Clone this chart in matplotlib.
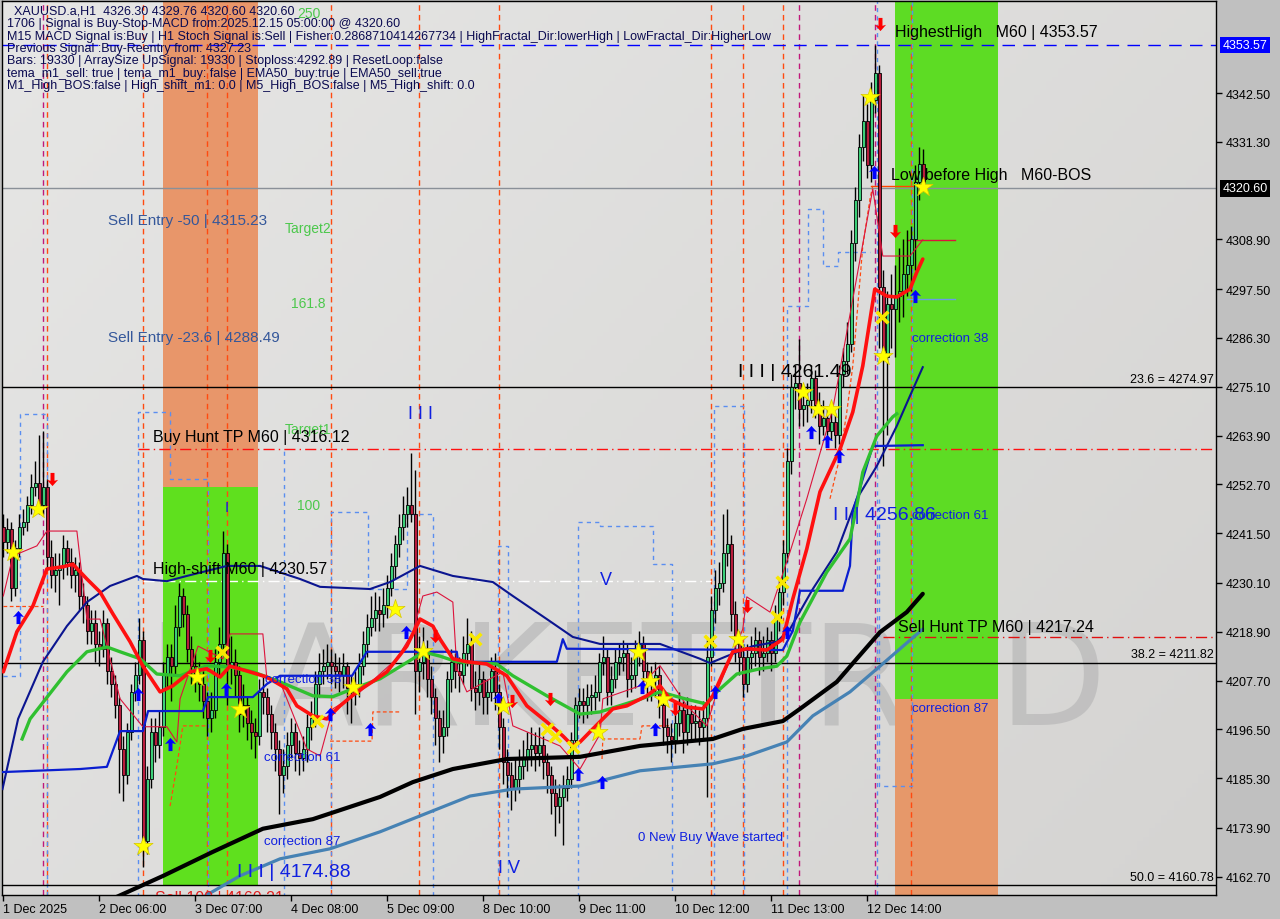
import numpy as np
import matplotlib.pyplot as plt
from matplotlib.patches import Rectangle
from matplotlib.path import Path
from matplotlib.colors import LinearSegmentedColormap
from matplotlib.transforms import blended_transform_factory

plt.rcParams['font.family'] = ['Liberation Sans', 'DejaVu Sans']

# XAUUSD H1 candles, bar 0 = 1 Dec 2025 00:00
first_open = 4243.0
closes = [
    4239.5, 4242.5, 4229.0, 4238.0, 4243.0, 4244.0, 4248.0, 4252.0, 4253.0, 4248.0,
    4252.0, 4236.0, 4232.0, 4233.0, 4234.0, 4238.0, 4235.0, 4232.0, 4233.0, 4227.0,
    4225.0, 4219.0, 4221.0, 4216.0, 4215.0, 4221.0, 4210.0, 4207.0, 4202.0, 4192.0,
    4186.0, 4196.0, 4205.0, 4209.0, 4217.0, 4171.0, 4185.0, 4196.0, 4193.0, 4197.0,
    4209.0, 4213.0, 4211.0, 4220.0, 4227.0, 4223.0, 4215.0, 4211.0, 4209.0, 4207.0,
    4203.0, 4199.0, 4201.0, 4212.0, 4216.0, 4237.0, 4211.0, 4212.0, 4209.0, 4200.0,
    4202.0, 4198.0, 4196.0, 4195.0, 4205.0, 4204.0, 4200.0, 4196.0, 4192.0, 4186.0,
    4188.0, 4193.0, 4196.0, 4191.0, 4190.0, 4192.0, 4197.0, 4199.0, 4207.0, 4210.0,
    4211.0, 4212.0, 4211.0, 4210.0, 4209.0, 4211.0, 4206.0, 4205.0, 4207.0, 4211.0,
    4216.0, 4220.0, 4222.0, 4224.0, 4223.0, 4225.0, 4229.0, 4234.0, 4239.0, 4243.0,
    4246.0, 4248.0, 4246.0, 4210.0, 4212.0, 4215.0, 4208.0, 4204.0, 4199.0, 4195.0,
    4197.0, 4208.0, 4212.0, 4210.0, 4209.0, 4214.0, 4216.0, 4206.0, 4205.0, 4208.0,
    4204.0, 4205.0, 4210.0, 4205.0, 4197.0, 4189.0, 4186.0, 4183.0, 4185.0, 4188.0,
    4190.0, 4192.0, 4193.0, 4191.0, 4193.0, 4189.0, 4186.0, 4182.0, 4179.0, 4181.0,
    4183.0, 4185.0, 4194.0, 4202.0, 4203.0, 4202.0, 4204.0, 4204.0, 4205.0, 4212.0,
    4213.0, 4205.0, 4208.0, 4212.0, 4213.0, 4214.0, 4208.0, 4209.0, 4214.0, 4216.0,
    4210.0, 4207.0, 4208.0, 4209.0, 4202.0, 4197.0, 4195.0, 4194.0, 4198.0, 4201.0,
    4196.0, 4200.0, 4198.0, 4198.5, 4197.0, 4199.0, 4213.0, 4224.0, 4229.0, 4230.0,
    4237.0, 4239.0, 4223.0, 4216.0, 4213.0, 4207.0, 4213.0, 4214.0, 4217.0, 4213.0,
    4214.0, 4217.0, 4214.0, 4222.0, 4228.0, 4237.0, 4258.0, 4275.0, 4276.0, 4270.0,
    4271.0, 4272.0, 4277.0, 4271.0, 4266.0, 4268.0, 4265.0, 4267.0, 4264.0, 4278.0,
    4281.0, 4285.0, 4308.0, 4318.0, 4330.0, 4336.0, 4326.0, 4341.0, 4347.0, 4298.0,
    4282.0, 4294.0, 4293.0, 4296.0, 4297.0, 4301.0, 4303.0, 4309.0, 4322.0, 4326.3,
    4320.6,
]
highs = [
    4246, 4245, 4244, 4240, 4246, 4247, 4250, 4255, 4258, 4264,
    4265, 4254, 4240, 4237, 4237, 4241, 4240, 4238, 4236, 4235,
    4230, 4227, 4224, 4224, 4219, 4224, 4222, 4213, 4209, 4204,
    4195, 4198, 4207, 4212, 4222, 4219, 4188, 4199, 4199, 4201,
    4212, 4216, 4216, 4225, 4230, 4229, 4225, 4218, 4214, 4212,
    4210, 4205, 4205, 4215, 4220, 4242, 4239, 4218, 4215, 4211,
    4207, 4204, 4201, 4199, 4208, 4209, 4206, 4202, 4198, 4194,
    4192, 4196, 4199, 4198, 4194, 4195, 4200, 4203, 4210, 4214,
    4215, 4216, 4215, 4214, 4213, 4214, 4212, 4209, 4210, 4214,
    4219, 4223, 4227, 4228, 4227, 4229, 4232, 4237, 4241, 4246,
    4250, 4252, 4260, 4256, 4218, 4220, 4217, 4211, 4206, 4201,
    4201, 4210, 4215, 4214, 4213, 4218, 4222, 4219, 4210, 4212,
    4210, 4208, 4213, 4214, 4207, 4199, 4192, 4189, 4190, 4192,
    4194, 4196, 4197, 4196, 4197, 4195, 4191, 4188, 4185, 4184,
    4186, 4188, 4196, 4204, 4206, 4206, 4207, 4207, 4209, 4214,
    4218, 4215, 4211, 4215, 4216, 4217, 4216, 4213, 4217, 4219,
    4218, 4212, 4211, 4212, 4211, 4204, 4199, 4198, 4201, 4205,
    4203, 4204, 4202, 4202, 4201, 4203, 4217, 4227, 4233, 4235,
    4246, 4247, 4241, 4226, 4219, 4216, 4216, 4218, 4220, 4219,
    4218, 4220, 4219, 4225, 4231, 4240, 4261, 4278, 4280, 4286,
    4275, 4276, 4280, 4279, 4274, 4272, 4270, 4271, 4269, 4280,
    4284, 4290, 4311, 4321, 4333, 4342, 4340, 4345, 4353.57, 4349,
    4302, 4297, 4301, 4303, 4307, 4309, 4311, 4312, 4326, 4330,
    4329.76,
]
lows = [
    4236, 4237, 4226, 4227, 4236, 4241, 4242, 4246, 4250, 4246,
    4246, 4233, 4229, 4228, 4225, 4231, 4232, 4229, 4228, 4224,
    4221, 4216, 4216, 4212, 4211, 4213, 4207, 4204, 4199, 4182,
    4180, 4184, 4194, 4203, 4207, 4165, 4168, 4183, 4189, 4190,
    4195, 4206, 4203, 4209, 4218, 4220, 4212, 4207, 4205, 4203,
    4199, 4195, 4196, 4199, 4209, 4214, 4202, 4207, 4204, 4196,
    4197, 4194, 4192, 4190, 4193, 4200, 4196, 4192, 4187, 4177,
    4182, 4185, 4190, 4187, 4186, 4187, 4189, 4194, 4197, 4204,
    4207, 4208, 4207, 4206, 4205, 4206, 4200, 4198, 4202, 4204,
    4209, 4213, 4218, 4219, 4219, 4220, 4222, 4227, 4231, 4236,
    4240, 4243, 4244, 4200, 4205, 4208, 4204, 4200, 4193, 4189,
    4191, 4195, 4205, 4206, 4205, 4207, 4211, 4203, 4201, 4202,
    4200, 4200, 4203, 4201, 4192, 4184, 4181, 4178, 4180, 4182,
    4185, 4187, 4188, 4187, 4188, 4185, 4182, 4177, 4172, 4175,
    4170, 4180, 4183, 4192, 4199, 4198, 4199, 4200, 4201, 4203,
    4209, 4202, 4202, 4206, 4209, 4210, 4204, 4205, 4206, 4211,
    4206, 4203, 4203, 4204, 4199, 4193, 4191, 4189, 4191, 4195,
    4191, 4193, 4194, 4194, 4193, 4194, 4181, 4211, 4221, 4225,
    4228, 4234, 4219, 4212, 4209, 4204, 4205, 4210, 4211, 4209,
    4210, 4212, 4210, 4212, 4219, 4225, 4235, 4255, 4270, 4266,
    4266, 4267, 4269, 4268, 4262, 4264, 4262, 4263, 4261, 4262,
    4275, 4278, 4283, 4304, 4314, 4327, 4323, 4322, 4338, 4284,
    4257, 4264, 4284, 4282, 4290, 4291, 4296, 4297, 4302, 4318,
    4320.6,
]

date_ticks = [0, 24, 48, 72, 96, 120, 144, 168, 192, 216]
date_labels = ['1 Dec 2025', '2 Dec 06:00', '3 Dec 07:00', '4 Dec 08:00', '5 Dec 09:00',
               '8 Dec 10:00', '9 Dec 11:00', '10 Dec 12:00', '11 Dec 13:00', '12 Dec 14:00']
price_ticks = [4162.70, 4173.90, 4185.30, 4196.50, 4207.70, 4218.90, 4230.10, 4241.50,
               4252.70, 4263.90, 4275.10, 4286.30, 4297.50, 4308.90, 4331.30, 4342.50]

# indicator lines (bar, price vertices)
fast_x = [0, 3.4, 7.4, 10.9, 14.9, 17.4, 20.9, 24.2, 27.4, 31.7, 34.9, 39.2, 42.4, 46.7, 50.9,
          54.2, 56.7, 60.9, 65.9, 70.9, 73.4, 77.4, 80.9, 84.2, 88.4, 93.4, 95.9, 100.9, 104.2,
          107.4, 109.2, 112.4, 115.9, 120.9, 125.9, 130.9, 135.9, 139.9, 142.4, 144.2, 147.4,
          152.4, 155.9, 160.9, 164.2, 166.7, 170.9, 174.9, 177.4, 182.4, 185.9, 190.9, 194.9,
          197.4, 200.9, 204.2, 209.2, 212.4, 214.9, 217.9, 220.9, 223.4, 226.7, 228.4, 229.9]
fast_y = [4209.7, 4218.9, 4224.8, 4233.3, 4233.8, 4234.4, 4231.0, 4228.0, 4223.0, 4216.6, 4211.0,
          4205.1, 4206.5, 4209.7, 4210.4, 4208.5, 4211.0, 4209.9, 4208.5, 4205.8, 4201.9, 4199.6,
          4198.9, 4201.9, 4205.1, 4208.1, 4209.7, 4215.6, 4221.8, 4220.2, 4217.2, 4212.7, 4212.0,
          4211.5, 4208.8, 4201.9, 4198.2, 4195.0, 4192.7, 4193.6, 4196.6, 4201.2, 4201.9, 4204.2,
          4206.5, 4203.4, 4201.6, 4201.2, 4204.2, 4214.3, 4215.0, 4214.7, 4217.2, 4226.4, 4237.9,
          4251.0, 4260.8, 4269.3, 4279.9, 4297.5, 4295.9, 4295.7, 4297.5, 4301.4, 4304.4]
mid_x = [4.7, 6.7, 15.9, 20.9, 25.9, 29.2, 34.2, 38.4, 44.2, 50.9, 56.7, 62.4, 69.2, 77.4, 82.4,
         87.4, 94.2, 102.4, 104.9, 109.2, 113.4, 123.4, 127.4, 135.9, 144.2, 149.2, 159.2, 164.2,
         170.9, 175.9, 178.4, 183.4, 189.2, 193.4, 195.9, 199.2, 205.9, 211.7, 213.4, 214.9,
         218.4, 222.4, 223.4]
mid_y = [4194.3, 4198.9, 4209.7, 4214.3, 4215.4, 4214.3, 4212.7, 4209.2, 4208.8, 4211.1, 4210.8,
         4209.7, 4207.4, 4204.2, 4204.0, 4205.8, 4208.1, 4212.7, 4214.3, 4213.3, 4212.0, 4211.5,
         4208.8, 4204.2, 4200.0, 4200.5, 4203.4, 4205.1, 4203.4, 4202.3, 4205.1, 4209.2, 4210.4,
         4211.0, 4213.3, 4221.1, 4232.6, 4240.2, 4247.8, 4255.5, 4263.8, 4268.2, 4268.9]
navy_x = [-0.2, 3.7, 9.9, 15.9, 20.9, 26.7, 33.4, 34.9, 40.9, 45.9, 55.9, 64.2, 74.2, 79.2, 91.7,
          96.7, 104.2, 112.4, 122.4, 127.4, 135.9, 142.4, 149.2, 164.2, 174.2, 176.7, 180.9,
          187.4, 193.4, 196.7, 202.4, 208.4, 213.4, 218.4, 223.4, 226.7, 229.9]
navy_y = [4182.8, 4198.9, 4212.0, 4220.2, 4225.7, 4229.4, 4231.7, 4231.0, 4230.5, 4231.7, 4234.0,
          4234.0, 4231.0, 4229.2, 4228.7, 4230.3, 4234.0, 4231.7, 4230.3, 4227.1, 4221.8, 4217.7,
          4216.1, 4216.1, 4212.7, 4211.7, 4213.3, 4215.6, 4216.6, 4219.5, 4228.7, 4237.2, 4249.4,
          4256.9, 4266.1, 4273.0, 4279.6]
slow_x = [27.0, 40.0, 52.4, 64.9, 77.4, 94.2, 102.4, 112.4, 125.9, 144.2, 159.2, 177.4, 184.9,
          194.9, 199.2, 208.4, 213.4, 219.2, 225.9, 229.9]
slow_y = [4157.5, 4162.9, 4168.4, 4173.7, 4175.9, 4181.0, 4184.4, 4187.4, 4189.7, 4190.2, 4192.7,
          4194.3, 4196.6, 4198.4, 4201.2, 4207.4, 4212.7, 4218.8, 4223.4, 4227.6]
steel_x = [49.0, 59.2, 69.2, 81.7, 94.2, 116.7, 127.4, 144.2, 159.2, 177.4, 185.9, 195.9, 202.4,
           211.7, 219.2, 229.9]
steel_y = [4157.5, 4162.9, 4166.8, 4169.1, 4173.0, 4181.2, 4182.8, 4183.5, 4187.0, 4188.6, 4190.4,
           4193.6, 4199.6, 4205.1, 4211.0, 4219.5]
step_x = [-0.2, 19.2, 25.9, 29.2, 34.9, 36.2, 49.9, 51.2, 62.4, 65.9, 69.2, 87.2, 90.9, 113.4,
          113.7, 138.4, 139.9, 140.9, 194.9, 197.4, 199.2, 209.9, 211.7, 212.4, 217.4, 229.9]
step_y = [4186.7, 4187.4, 4187.9, 4196.1, 4196.1, 4200.7, 4200.7, 4203.9, 4203.9, 4206.9, 4208.8,
          4208.8, 4214.3, 4214.3, 4212.0, 4212.0, 4217.2, 4215.0, 4214.7, 4219.1, 4228.3, 4228.3,
          4234.0, 4246.4, 4261.5, 4261.7]
trail_x = [0, 2.4, 8.4, 10.9, 18.4, 20.9, 24.2, 29.2, 34.9, 40.9, 43.4, 44.2, 48.7, 54.9, 56.7,
           64.9, 65.9, 69.2, 75.9, 79.2, 82.4, 89.2, 98.4, 102.4, 104.9, 108.4, 112.4, 113.4,
           115.9, 124.9, 127.4, 139.2, 144.2, 149.2, 149.9, 159.2, 164.2, 170.9, 175.9, 178.4,
           184.9, 185.9, 191.7, 196.7, 200.9, 207.4, 212.4, 217.4, 219.9, 226.7, 229.9]
trail_y = [4227.1, 4236.3, 4238.6, 4242.0, 4242.0, 4221.8, 4221.8, 4203.5, 4197.1, 4197.1, 4193.6,
           4203.5, 4215.6, 4212.7, 4218.4, 4218.4, 4208.1, 4207.4, 4192.0, 4190.4, 4201.2, 4205.1,
           4212.7, 4218.8, 4227.1, 4228.0, 4225.7, 4210.4, 4205.1, 4209.7, 4197.3, 4192.7, 4187.4,
           4195.4, 4203.5, 4206.5, 4211.1, 4201.9, 4197.3, 4205.1, 4219.5, 4226.9, 4223.4, 4237.2,
           4249.4, 4270.0, 4295.2, 4320.5, 4305.1, 4305.1, 4308.8]

# dashed stepped boxes (light blue) and stop segments (orange)
box_x = [[-0.1, 4.2, 4.2, 10.9, 10.9],
         [33.7, 33.7, 41.7, 41.7, 51.2, 51.2],
         [70.2, 70.2],
         [81.9, 81.9, 91.2, 91.2, 100.9, 100.9, 107.4, 107.4],
         [123.7, 123.7, 126.2, 126.2],
         [143.7, 143.7, 149.2, 149.2, 162.4, 162.4, 167.2, 167.2],
         [177.7, 177.7, 185.2, 185.2],
         [195.9, 195.9, 201.2, 201.2, 204.9, 204.9, 208.7, 208.7, 216.7],
         [218.9, 218.9, 227.2, 227.2]]
box_y = [[4208.8, 4208.8, 4268.9, 4268.9, 4158.0],
         [4158.0, 4269.3, 4269.3, 4253.9, 4253.9, 4158.0],
         [4158.0, 4260.8],
         [4158.0, 4246.4, 4246.4, 4228.7, 4228.7, 4245.9, 4245.9, 4158.0],
         [4158.0, 4238.6, 4238.6, 4158.0],
         [4158.0, 4244.1, 4244.1, 4243.2, 4243.2, 4234.4, 4234.4, 4158.0],
         [4158.0, 4270.7, 4270.7, 4158.0],
         [4158.0, 4293.6, 4293.6, 4315.9, 4315.9, 4302.8, 4302.8, 4306.0, 4306.0],
         [4249.4, 4183.5, 4183.5, 4364.0]]
stop_x = [[-0.1, 9.9],
          [41.7, 43.4, 44.9, 50.9],
          [81.7, 92.2, 92.4, 99.2],
          [149.7, 149.9, 159.2, 159.7, 166.7],
          [206.7, 209.2, 210.9, 212.4, 214.9, 216.7, 217.4]]
stop_y = [[4224.8, 4224.8],
          [4178.9, 4188.1, 4197.3, 4197.3],
          [4193.8, 4193.8, 4200.5, 4200.5],
          [4189.7, 4194.3, 4194.3, 4197.3, 4197.3],
          [4249.4, 4259.2, 4269.3, 4279.9, 4307.4, 4318.2, 4321.2]]

# signal markers
star_x = [2.4, 8.7, 34.9, 48.4, 59.2, 87.4, 97.9, 104.9, 124.9, 148.7, 158.7, 161.7, 164.9,
          183.7, 199.9, 203.7, 206.9, 216.7, 219.9, 229.9]
star_y = [4237.2, 4247.1, 4169.8, 4208.5, 4201.2, 4206.2, 4224.1, 4214.5, 4201.9, 4195.9, 4214.3,
          4207.6, 4203.5, 4217.2, 4273.9, 4270.0, 4270.0, 4341.6, 4282.2, 4320.9]
cross_x = [54.7, 78.4, 117.9, 135.9, 137.9, 142.4, 176.7, 193.4, 194.7, 219.7]
cross_y = [4214.3, 4198.4, 4217.2, 4196.6, 4195.0, 4192.5, 4216.8, 4222.3, 4230.3, 4291.1]
up_x = [3.7, 33.7, 41.7, 55.7, 81.7, 91.7, 100.7, 123.7, 143.7, 149.7, 159.7, 162.9, 177.9,
        195.9, 201.9, 205.9, 208.9, 217.7, 227.9]
up_y = [4222.3, 4204.6, 4193.2, 4205.8, 4200.0, 4196.6, 4218.8, 4203.5, 4186.3, 4184.4, 4206.2,
        4196.6, 4205.1, 4218.8, 4264.7, 4262.7, 4259.2, 4324.4, 4295.9]
down_x = [12.2, 51.7, 107.9, 127.2, 136.7, 167.9, 185.9, 219.2, 222.9]
down_y = [4253.9, 4213.3, 4217.9, 4203.0, 4203.5, 4201.2, 4224.8, 4358.3, 4310.8]

# vertical event lines (bar index)
vl_orange = [11, 35, 51, 56, 82, 104, 124, 177, 185, 195, 227]
vl_blue = [218.4]
vl_purple = [10, 199, 218]

# levels
highest_high = 4353.57
last_price = 4320.60
fib_levels = [4274.97, 4211.82, 4160.78]
fib_names = ['23.6', '38.2', '50.0']
buy_hunt_level, buy_hunt_from = 4260.8, 33.7
sell_hunt_level, sell_hunt_from = 4217.7, 219.9
high_shift_level, high_shift_span = 4230.57, (35, 177)

# zones
zone_left = (39.9, 63.7)
zone_right = (222.9, 248.7)
zone_left_split, zone_left_floor = 4252.1, 4160.8
zone_right_split = 4203.5

info_lines = [
    '  XAUUSD.a,H1  4326.30 4329.76 4320.60 4320.60',
    '1706 | Signal is Buy-Stop-MACD from:2025.12.15 05:00:00 @ 4320.60',
    'M15 MACD Signal is:Buy | H1 Stoch Signal is:Sell | Fisher:0.2868710414267734 | HighFractal_Dir:lowerHigh | LowFractal_Dir:HigherLow',
    'Previous Signal :Buy-Reentry from: 4327.23',
    'Bars: 19330 | ArraySize UpSignal: 19330 | Stoploss:4292.89 | ResetLoop:false',
    'tema_m1_sell: true | tema_m1_buy: false | EMA50_buy:true | EMA50_sell:true',
    'M1_High_BOS:false | High_shift_m1: 0.0 | M5_High_BOS:false | M5_High_shift: 0.0',
]

YMIN, YMAX = 4158.5, 4363.5
XMIN, XMAX = -0.2, 303.2

fig = plt.figure(figsize=(12.8, 9.2), dpi=100, facecolor='#c0c0c0')
ax = fig.add_axes([0.00195, 0.0261, 0.9480, 0.9712])
ax.set_autoscale_on(False)
ax.set_xlim(XMIN, XMAX)
ax.set_ylim(YMIN, YMAX)

# background gradient
gx, gy = np.meshgrid(np.linspace(0, 1, 200), np.linspace(0, 1, 200))
bg = LinearSegmentedColormap.from_list('bg', ['#e6e6e5', '#d5d4d2'])
ax.imshow(gx * 0.6 + (1 - gy) * 0.4, extent=(0, 1, 0, 1), transform=ax.transAxes,
          cmap=bg, aspect='auto', zorder=0, origin='lower')

# watermark
ax.text(0.515, 0.236, 'MARKETTRAD', transform=ax.transAxes, fontsize=101, color='#b8b8b8',
        alpha=0.7, ha='center', va='center', zorder=0.3, family='DejaVu Sans')

# zones
ax.add_patch(Rectangle((zone_left[0], zone_left_split), zone_left[1] - zone_left[0],
                       YMAX - zone_left_split, color='#e8966a', lw=0, zorder=0.5))
ax.add_patch(Rectangle((zone_left[0], zone_left_floor), zone_left[1] - zone_left[0],
                       zone_left_split - zone_left_floor, color='#5fe01e', lw=0, zorder=0.5))
ax.add_patch(Rectangle((zone_right[0], zone_right_split), zone_right[1] - zone_right[0],
                       YMAX - zone_right_split, color='#5ddc24', lw=0, zorder=0.5))
ax.add_patch(Rectangle((zone_right[0], YMIN), zone_right[1] - zone_right[0],
                       zone_right_split - YMIN, color='#e6986a', lw=0, zorder=0.5))

# vertical lines
for v in vl_orange:
    ax.axvline(v, color='#ff4a10', lw=1, ls=(0, (4, 3)), zorder=1)
for v in vl_blue:
    ax.axvline(v, color='#5a8ef0', lw=1, ls=(0, (3, 3)), zorder=1)
for v in vl_purple:
    ax.axvline(v, color='#c0187a', lw=1, ls=(0, (4, 3)), zorder=1)
for bx, by in zip(box_x, box_y):
    ax.plot(bx, by, color='#5a8ef0', lw=1, ls=(0, (3, 3)), zorder=1.2)
for sx, sy in zip(stop_x, stop_y):
    ax.plot(sx, sy, color='#ff4a10', lw=0.9, ls=(0, (3, 2)), zorder=1.2)

# horizontal levels
ax.axhline(highest_high, color='#0000ff', lw=1, ls=(0, (9, 6)), zorder=1.5)
ax.axhline(last_price, color='#8a9098', lw=1, zorder=1.5)
trans_ax_y = blended_transform_factory(ax.transAxes, ax.transData)
for lvl, nm in zip(fib_levels, fib_names):
    ax.axhline(lvl, color='black', lw=1, zorder=1.5)
    ax.text(0.998, lvl + 0.5, f'{nm} = {lvl:.2f}', transform=trans_ax_y, ha='right',
            va='bottom', fontsize=9, color='black', zorder=7)
ax.plot([buy_hunt_from, XMAX], [buy_hunt_level] * 2, color='#ff1010', lw=1,
        ls=(0, (8, 3, 1, 3)), zorder=1.5)
ax.plot([sell_hunt_from, XMAX], [sell_hunt_level] * 2, color='#e01010', lw=1,
        ls=(0, (8, 3, 1, 3)), zorder=1.5)
ax.plot(list(high_shift_span), [high_shift_level] * 2, color='white', lw=1,
        ls=(0, (8, 3, 1, 3)), zorder=1.5)
ax.plot([225.9, 237.9], [4308.8, 4308.8], color='#dc143c', lw=1, zorder=2)
ax.plot([225.9, 237.9], [4295.2, 4295.2], color='#6a9ae8', lw=1, zorder=2)
ax.plot([217.0, 228.4], [4321.1, 4321.1], color='#ff4500', lw=1, zorder=2)

# candles
idx = np.arange(len(closes))
c = np.array(closes)
o = np.array([first_open] + closes[:-1])
h = np.array(highs, dtype=float)
l = np.array(lows, dtype=float)
up = c >= o
ax.vlines(idx, l, h, color='black', lw=1, zorder=3)
body_lo = np.minimum(o, c)
body_h = np.maximum(np.abs(c - o), 0.35)
ax.bar(idx[up], body_h[up], bottom=body_lo[up], width=0.72, color='#3ccf78',
       edgecolor='black', lw=0.6, zorder=3.2)
ax.bar(idx[~up], body_h[~up], bottom=body_lo[~up], width=0.72, color='#b81c3c',
       edgecolor='black', lw=0.6, zorder=3.2)

# indicator lines
ax.plot(trail_x, trail_y, color='#dc143c', lw=0.8, zorder=3.4)
ax.plot(slow_x, slow_y, color='black', lw=3.0, zorder=4, solid_capstyle='round')
ax.plot(steel_x, steel_y, color='#4682b4', lw=2.3, zorder=4, solid_capstyle='round')
ax.plot(navy_x, navy_y, color='#0b1590', lw=1.5, zorder=4)
ax.plot(step_x, step_y, color='#0a1ed0', lw=1.6, zorder=4)
ax.plot(mid_x, mid_y, color='#30c030', lw=2.4, zorder=4.1)
ax.plot(fast_x, fast_y, color='#ff1010', lw=2.6, zorder=4.2, solid_capstyle='round')

# markers
arrow = Path([(0, 1), (0.85, 0.05), (0.3, 0.2), (0.3, -1), (-0.3, -1), (-0.3, 0.2),
              (-0.85, 0.05), (0, 1)],
             [Path.MOVETO] + [Path.LINETO] * 6 + [Path.CLOSEPOLY])
arrow_dn = Path(arrow.vertices * np.array([1, -1]), arrow.codes)
ax.scatter(up_x, up_y, marker=arrow, s=90, color='#0000ff', zorder=6, lw=0)
ax.scatter(down_x, down_y, marker=arrow_dn, s=90, color='#ff0000', zorder=6, lw=0)
ax.scatter(star_x, star_y, marker='*', s=210, color='#ffff00', edgecolor='#d8c800',
           lw=0.5, zorder=6)
ax.scatter(cross_x, cross_y, marker='x', s=70, color='#f8e800', lw=2.6, zorder=6)

# chart labels
blue_txt = '#1020e0'
ax.text(26.2, 4313.4, 'Sell Entry -50 | 4315.23', color='#34579a', fontsize=11, va='center', zorder=7)
ax.text(26.2, 4286.5, 'Sell Entry -23.6 | 4288.49', color='#34579a', fontsize=11, va='center', zorder=7)
for txt, bx, py in [('Target2', 70.4, 4311.5), ('161.8', 71.9, 4294.3), ('Target1', 70.4, 4265.4),
                    ('100', 73.4, 4248.0), ('250', 73.4, 4360.9)]:
    ax.text(bx, py, txt, color='#4cc84c', fontsize=10, va='center', zorder=7)
ax.text(37.4, 4263.6, 'Buy Hunt TP M60 | 4316.12', color='black', fontsize=11.5, va='center', zorder=7)
ax.text(37.4, 4233.5, 'High-shift M60 | 4230.57', color='black', fontsize=11.5, va='center', zorder=7)
ax.text(55.9, 4247.5, 'I', color=blue_txt, fontsize=11, va='center', ha='center', zorder=7)
ax.text(101.2, 4268.9, 'I I I', color=blue_txt, fontsize=13, va='center', zorder=7)
ax.text(149.3, 4230.8, 'V', color=blue_txt, fontsize=13, va='center', zorder=7)
ax.text(123.7, 4164.9, 'I V', color=blue_txt, fontsize=13, va='center', zorder=7)
ax.text(58.4, 4164.0, 'I I I | 4174.88', color=blue_txt, fontsize=14, va='center', zorder=7)
ax.text(207.4, 4245.9, 'I I | 4256.86', color=blue_txt, fontsize=14, va='center', zorder=7)
ax.text(183.7, 4278.7, 'I I I | 4261.49', color='black', fontsize=14, va='center', zorder=7)
for bx, py, txt in [(65.4, 4208.1, 'correction 38'), (65.2, 4190.2, 'correction 61'),
                    (65.2, 4170.9, 'correction 87'), (227.2, 4286.3, 'correction 38'),
                    (227.2, 4245.7, 'correction 61'), (227.2, 4201.4, 'correction 87')]:
    ax.text(bx, py, txt, color=blue_txt, fontsize=9.5, va='center', zorder=7)
ax.text(158.7, 4171.8, '0 New Buy Wave started', color=blue_txt, fontsize=9.5, va='center', zorder=7)
ax.text(222.9, 4356.5, 'HighestHigh   M60 | 4353.57', color='black', fontsize=11.5, va='center', zorder=7)
ax.text(221.9, 4323.9, 'Low before High   M60-BOS', color='black', fontsize=11.5, va='center', zorder=7)
ax.text(223.7, 4220.2, 'Sell Hunt TP M60 | 4217.24', color='black', fontsize=11.5, va='center', zorder=7)
ax.text(37.9, 4158.0, 'Sell 100 | 4160.21', color='#e02020', fontsize=11.5, va='center', zorder=7,
        clip_on=True)

# info block
for k, line in enumerate(info_lines):
    fig.text(7 / 1280, 1 - (12 + 12.3 * k) / 920, line, fontsize=9.0, color='#0a0a50',
             ha='left', va='center', zorder=10)

# axes styling
for s in ax.spines.values():
    s.set_color('black')
    s.set_linewidth(1)
ax.yaxis.tick_right()
ax.set_yticks(price_ticks)
ax.set_yticklabels([f'{v:.2f}' for v in price_ticks])
ax.tick_params(axis='y', direction='out', length=4, width=1, labelsize=9, pad=3, colors='black')
ax.set_xticks(date_ticks)
ax.set_xticklabels(date_labels)
for lb in ax.get_xticklabels():
    lb.set_ha('left')
ax.tick_params(axis='x', direction='out', length=4, width=1, labelsize=9, pad=2, colors='black')

ax.text(1.0054, highest_high, f'{highest_high:.2f}', transform=trans_ax_y, color='white',
        fontsize=9, va='center', ha='left', clip_on=False, zorder=10,
        bbox=dict(boxstyle='square,pad=0.18', fc='#0000ff', ec='none'))
ax.text(1.0054, last_price, f'{last_price:.2f}', transform=trans_ax_y, color='white',
        fontsize=9, va='center', ha='left', clip_on=False, zorder=10,
        bbox=dict(boxstyle='square,pad=0.18', fc='black', ec='none'))

fig.savefig('out.png', dpi=100, facecolor=fig.get_facecolor())
